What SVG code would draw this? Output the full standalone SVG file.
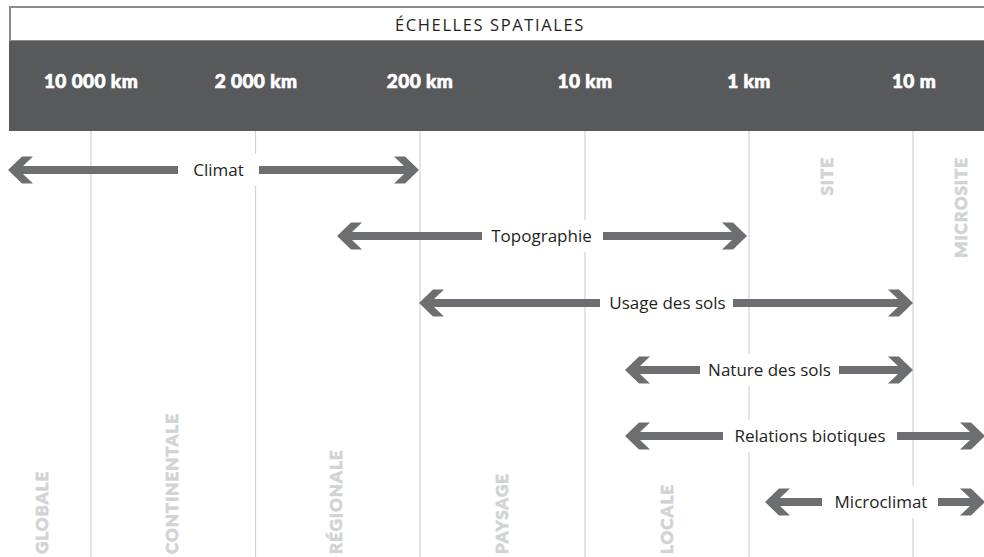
<svg xmlns="http://www.w3.org/2000/svg" xmlns:xlink="http://www.w3.org/1999/xlink" width="984" height="557" viewBox="0 0 984 557">
<style>
.grid{stroke:#d1d3d4;stroke-width:1.2;fill:none}
.hdr{font-family:Lato,"Noto Sans","Liberation Sans",sans-serif;font-weight:900;font-size:19px;fill:#ffffff;stroke:#ffffff;stroke-width:0.7px;text-anchor:middle;letter-spacing:0.4px}
.title{font-family:"Open Sans","Liberation Sans",sans-serif;font-size:16.5px;fill:#231f20;text-anchor:middle;letter-spacing:1.6px}
.scale{font-family:Lato,"Noto Sans","Liberation Sans",sans-serif;font-weight:900;font-size:17px;fill:#d1d3d4;stroke:#d1d3d4;stroke-width:0.7px;letter-spacing:1px}
.lbl{font-family:"Open Sans","Liberation Sans",sans-serif;font-size:17px;fill:#231f20;text-anchor:middle}
.arr{fill:#6d6e71}
.bg{fill:#ffffff}
</style>
<defs>
<path id="hl" d="M0,0 L14,-13.5 L25,-13.5 L15,-4 L15,4 L25,13.5 L14,13.5 Z"/>
<path id="hr" d="M0,0 L-14,-13.5 L-25,-13.5 L-15,-4 L-15,4 L-25,13.5 L-14,13.5 Z"/>
</defs>
<rect x="0" y="0" width="984" height="557" fill="#ffffff"/>
<g id="header">
<rect x="10" y="7" width="990" height="34" fill="#ffffff" stroke="#8a8a8a" stroke-width="2"/>
<text class="title" x="490" y="31">ÉCHELLES SPATIALES</text>
<rect x="9" y="41" width="975" height="90" fill="#58595b"/>
<text class="hdr" x="91" y="88">10 000 km</text>
<text class="hdr" x="256" y="88">2 000 km</text>
<text class="hdr" x="420" y="88">200 km</text>
<text class="hdr" x="585" y="88">10 km</text>
<text class="hdr" x="749" y="88">1 km</text>
<text class="hdr" x="914" y="88">10 m</text>
</g>
<g id="grid">
<line class="grid" x1="91" y1="131" x2="91" y2="557"/>
<line class="grid" x1="255.5" y1="131" x2="255.5" y2="557"/>
<line class="grid" x1="420" y1="131" x2="420" y2="557"/>
<line class="grid" x1="585" y1="131" x2="585" y2="557"/>
<line class="grid" x1="749" y1="131" x2="749" y2="557"/>
<line class="grid" x1="913" y1="131" x2="913" y2="557"/>
</g>
<g id="scales">
<text class="scale" transform="translate(48,554) rotate(-90)">GLOBALE</text>
<text class="scale" transform="translate(178,554) rotate(-90)">CONTINENTALE</text>
<text class="scale" transform="translate(342,554) rotate(-90)">RÉGIONALE</text>
<text class="scale" transform="translate(508,554) rotate(-90)">PAYSAGE</text>
<text class="scale" transform="translate(673,554) rotate(-90)">LOCALE</text>
<text class="scale" transform="translate(833,157) rotate(-90)" text-anchor="end">SITE</text>
<text class="scale" transform="translate(967,157) rotate(-90)" text-anchor="end">MICROSITE</text>
</g>
<g id="connectors">
<g id="climat">
<rect class="bg" x="178" y="154" width="81" height="32"/>
<rect class="arr" x="18" y="166" width="160" height="8"/>
<rect class="arr" x="259" y="166" width="150" height="8"/>
<use xlink:href="#hl" href="#hl" class="arr" x="8" y="170"/>
<use xlink:href="#hr" href="#hr" class="arr" x="419" y="170"/>
<text class="lbl" x="218.5" y="176">Climat</text>
</g>
<g id="topographie">
<rect class="bg" x="482" y="220" width="121" height="32"/>
<rect class="arr" x="347" y="232" width="135" height="8"/>
<rect class="arr" x="603" y="232" width="134" height="8"/>
<use xlink:href="#hl" href="#hl" class="arr" x="337" y="236"/>
<use xlink:href="#hr" href="#hr" class="arr" x="747" y="236"/>
<text class="lbl" x="541.5" y="242">Topographie</text>
</g>
<g id="usage">
<rect class="bg" x="600" y="287" width="133" height="32"/>
<rect class="arr" x="429" y="299" width="171" height="8"/>
<rect class="arr" x="733" y="299" width="170" height="8"/>
<use xlink:href="#hl" href="#hl" class="arr" x="419" y="303"/>
<use xlink:href="#hr" href="#hr" class="arr" x="913" y="303"/>
<text class="lbl" x="667.5" y="309">Usage des sols</text>
</g>
<g id="nature">
<rect class="bg" x="700" y="354" width="139" height="32"/>
<rect class="arr" x="635" y="366" width="65" height="8"/>
<rect class="arr" x="839" y="366" width="64" height="8"/>
<use xlink:href="#hl" href="#hl" class="arr" x="625" y="370"/>
<use xlink:href="#hr" href="#hr" class="arr" x="913" y="370"/>
<text class="lbl" x="769.5" y="376">Nature des sols</text>
</g>
<g id="relations">
<rect class="bg" x="723" y="420" width="174" height="32"/>
<rect class="arr" x="635" y="432" width="88" height="8"/>
<rect class="arr" x="897" y="432" width="78" height="8"/>
<use xlink:href="#hl" href="#hl" class="arr" x="625" y="436"/>
<use xlink:href="#hr" href="#hr" class="arr" x="985" y="436"/>
<text class="lbl" x="810" y="442">Relations biotiques</text>
</g>
<g id="microclimat">
<rect class="bg" x="822" y="486" width="116" height="32"/>
<rect class="arr" x="775" y="498" width="47" height="8"/>
<rect class="arr" x="938" y="498" width="37" height="8"/>
<use xlink:href="#hl" href="#hl" class="arr" x="765" y="502"/>
<use xlink:href="#hr" href="#hr" class="arr" x="985" y="502"/>
<text class="lbl" x="881" y="508">Microclimat</text>
</g>
</g>
</svg>
